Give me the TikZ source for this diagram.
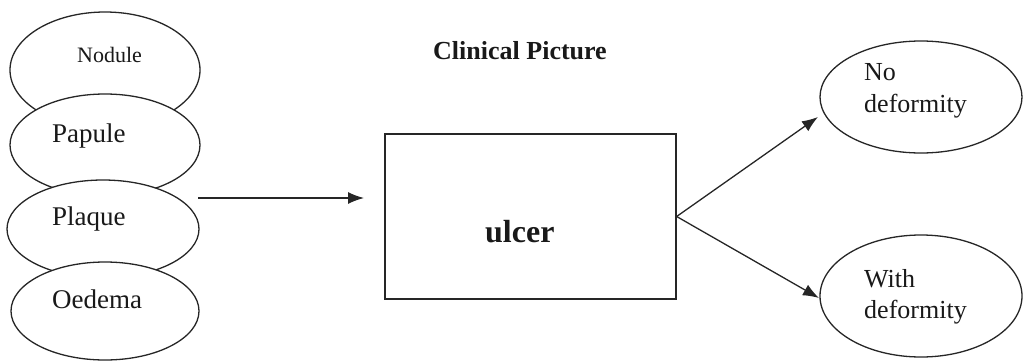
\documentclass[tikz,border=0pt]{standalone}
\usepackage{fontspec}
\setmainfont{Liberation Serif}
\usetikzlibrary{arrows.meta,shapes.geometric}
\begin{document}
\begin{tikzpicture}[x=1pt,y=-1pt,
  ink/.style={draw=black!85, line width=1.3pt},
  lobe/.style={ink, ellipse, fill=white, inner sep=0pt},
  ulcerbox/.style={ink, rectangle, inner sep=0pt, minimum width=291pt, minimum height=165pt},
  lbl/.style={anchor=base west, inner sep=0pt, text=black!90},
  arr/.style={ink, -{Latex[length=16pt,width=12pt]}}]
\useasboundingbox (0,0) rectangle (1026,362);
% left stack of ellipses
\node[lobe, minimum width=190pt, minimum height=116pt] (nodule) at (105,70) {};
\node[lobe, minimum width=190pt, minimum height=102pt] (papule) at (105,145) {};
\node[lobe, minimum width=192pt, minimum height=98pt] (plaque) at (103,229) {};
\node[lobe, minimum width=188pt, minimum height=98pt] (oedema) at (105,311) {};
\node[lbl, font=\fontsize{22}{26}\selectfont] (tnodule) at (77,62) {Nodule};
\node[lbl, font=\fontsize{27}{32}\selectfont] (tpapule) at (52,142) {Papule};
\node[lbl, font=\fontsize{27}{32}\selectfont] (tplaque) at (52,225) {Plaque};
\node[lbl, font=\fontsize{27}{32}\selectfont] (toedema) at (52,308) {Oedema};
% title
\node[lbl, font=\fontsize{26}{30}\selectfont\bfseries] (title) at (433,59) {Clinical Picture};
% box
\node[ulcerbox] (box) at (530.5,216.5) {};
\node[lbl, font=\fontsize{32}{36}\selectfont\bfseries] (tulcer) at (485,242) {ulcer};
% right ellipses
\node[lobe, minimum width=202pt, minimum height=112pt] (nodef) at (921,97) {};
\node[lobe, minimum width=202pt, minimum height=122pt] (withdef) at (921,296) {};
\node[lbl, font=\fontsize{26}{32}\selectfont] (tno1) at (864,80) {No};
\node[lbl, font=\fontsize{26}{32}\selectfont] (tno2) at (864,112) {deformity};
\node[lbl, font=\fontsize{26}{32}\selectfont] (twith1) at (864,287) {With};
\node[lbl, font=\fontsize{26}{32}\selectfont] (twith2) at (864,318) {deformity};
% connectors
\coordinate (a0) at (198,198);
\coordinate (a1) at (364,198);
\coordinate (b1) at (818,117);
\coordinate (c1) at (819,298);
\draw[arr] (a0) -- (a1);
\draw[arr] (box.east) -- (b1);
\draw[arr] (box.east) -- (c1);
\end{tikzpicture}
\end{document}
